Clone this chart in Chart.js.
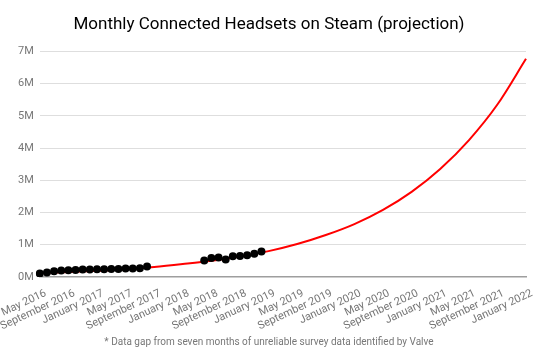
<!DOCTYPE html>
<html>
<head>
<meta charset="utf-8">
<script src="https://cdn.jsdelivr.net/npm/chart.js@4"></script>
<style>
  html, body { margin: 0; padding: 0; background: #fff; }
  #wrap { width: 550px; height: 354px; position: relative; }
</style>
</head>
<body>
<div id="wrap"><canvas id="chart"></canvas></div>
<script>
// month categories, May 2016 .. January 2022
const months = [
  "May 2016", "June 2016", "July 2016", "August 2016", "September 2016", "October 2016", "November 2016", "December 2016",
  "January 2017", "February 2017", "March 2017", "April 2017", "May 2017", "June 2017", "July 2017", "August 2017",
  "September 2017", "October 2017", "November 2017", "December 2017",
  "January 2018", "February 2018", "March 2018", "April 2018", "May 2018", "June 2018", "July 2018", "August 2018",
  "September 2018", "October 2018", "November 2018", "December 2018",
  "January 2019", "February 2019", "March 2019", "April 2019", "May 2019", "June 2019", "July 2019", "August 2019",
  "September 2019", "October 2019", "November 2019", "December 2019",
  "January 2020", "February 2020", "March 2020", "April 2020", "May 2020", "June 2020", "July 2020", "August 2020",
  "September 2020", "October 2020", "November 2020", "December 2020",
  "January 2021", "February 2021", "March 2021", "April 2021", "May 2021", "June 2021", "July 2021", "August 2021",
  "September 2021", "October 2021", "November 2021", "December 2021",
  "January 2022"
];

// survey data (millions), two runs either side of the gap
const surveyStartA = "May 2016";
const surveyA = [0.105, 0.135, 0.175, 0.197, 0.206, 0.215, 0.228, 0.228, 0.237, 0.237, 0.246, 0.246, 0.258, 0.258, 0.268, 0.32];
const surveyStartB = "April 2018";
const surveyB = [0.51, 0.59, 0.60, 0.54, 0.64, 0.65, 0.67, 0.72, 0.79];

const projMonths = ["May 2016", "September 2016", "January 2017", "May 2017", "September 2017", "January 2018",
  "May 2018", "September 2018", "January 2019", "May 2019", "September 2019", "January 2020",
  "May 2020", "September 2020", "January 2021", "May 2021", "September 2021", "January 2022"];
const projValues = [0.12, 0.15, 0.19, 0.24, 0.31, 0.40, 0.50, 0.63, 0.80, 1.02, 1.30, 1.64,
  2.08, 2.64, 3.35, 4.24, 5.35, 6.77];

const yTicks = [0, 1, 2, 3, 4, 5, 6, 7];

const toPts = (start, vals) => {
  const i0 = months.indexOf(start);
  return vals.map((v, i) => ({ x: months[i0 + i], y: v * 1e6 }));
};
const surveyPts = toPts(surveyStartA, surveyA).concat(toPts(surveyStartB, surveyB));
const projPts = projMonths.map((m, i) => ({ x: m, y: projValues[i] * 1e6 }));

const font = "Roboto, 'Noto Sans', sans-serif";

new Chart(document.getElementById("chart"), {
  type: "line",
  data: {
    labels: months,
    datasets: [
      { label: "Survey", data: surveyPts, showLine: false, order: 0,
        pointRadius: 4, pointBackgroundColor: "#000", pointBorderColor: "#000", pointBorderWidth: 0 },
      { label: "Projection", data: projPts, order: 1, borderColor: "#ff0000", borderWidth: 2,
        pointRadius: 0, cubicInterpolationMode: "monotone", fill: false }
    ]
  },
  options: {
    responsive: true,
    maintainAspectRatio: false,
    animation: false,
    layout: { padding: { left: 12, right: 24, top: 0, bottom: 0 } },
    plugins: {
      legend: { display: false },
      tooltip: { enabled: false },
      title: { display: true, text: "Monthly Connected Headsets on Steam (projection)",
        color: "#000", font: { family: font, size: 17, weight: "normal" }, padding: { top: 15, bottom: 16 } },
      subtitle: { display: true, position: "bottom", text: "* Data gap from seven months of unreliable survey data identified by Valve",
        color: "#777", font: { family: font, size: 10 }, padding: { top: 2, bottom: 6 } }
    },
    scales: {
      x: {
        grid: { display: false },
        border: { display: true, color: "#9e9e9e", width: 1.5 },
        afterFit: s => { s.paddingLeft = 0; s.height -= 1; },
        ticks: {
          autoSkip: false, minRotation: 25, maxRotation: 25, color: "#777",
          font: { family: font, size: 11 }, padding: 2, labelOffset: 6,
          callback: (v, i) => (i % 4 === 0 ? months[i] : null)
        }
      },
      y: {
        min: 0, max: yTicks[yTicks.length - 1] * 1e6,
        border: { display: false },
        grid: { color: "#dedede", drawTicks: false },
        afterBuildTicks: ax => { ax.ticks = yTicks.map(v => ({ value: v * 1e6 })); },
        ticks: { color: "#777", font: { family: font, size: 11 }, padding: 6,
          callback: v => v / 1e6 + "M" }
      }
    }
  }
});
</script>
</body>
</html>
